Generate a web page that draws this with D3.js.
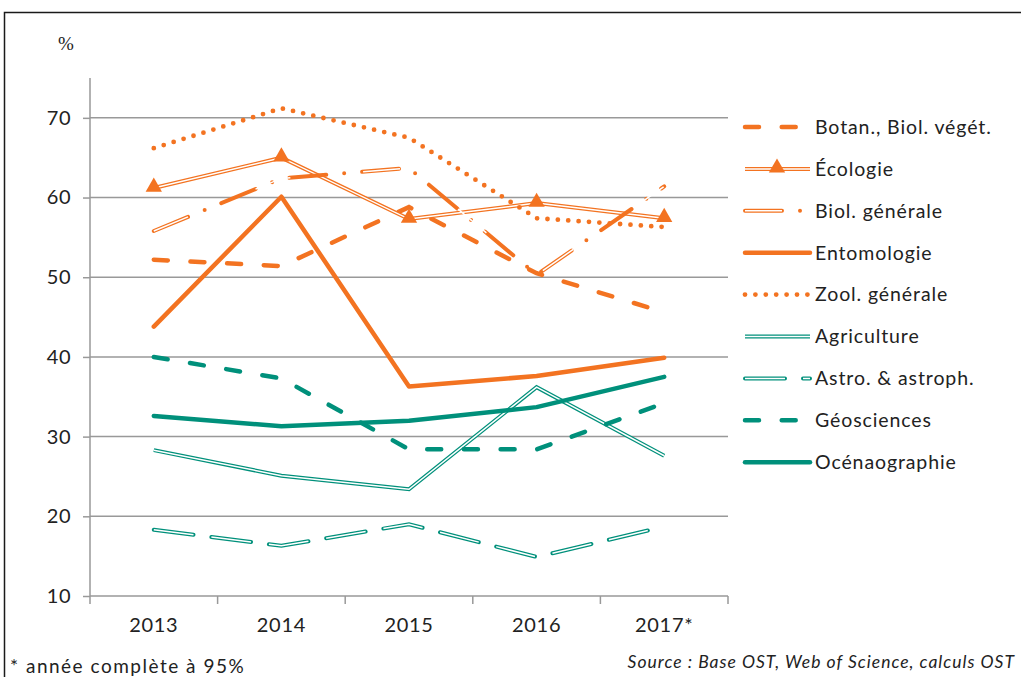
<!DOCTYPE html>
<html><head><meta charset="utf-8">
<script src="https://cdn.jsdelivr.net/npm/d3@7"></script>
<style>
html,body{margin:0;padding:0;background:#fff;overflow:hidden}
svg{display:block}
text{font-family:Lato,"Open Sans",sans-serif;fill:#222}
</style></head>
<body>
<script>
// ---- data ----
const years = ["2013","2014","2015","2016","2017*"];
const yTicks = [10,20,30,40,50,60,70];
const seriesNames = ["Botan., Biol. végét.","Écologie","Biol. générale","Entomologie","Zool. générale","Agriculture","Astro. & astroph.","Géosciences","Océnaographie"];
const botan = [52.2,51.4,58.8,50.5,45.6];
const ecologie = [61.2,65.0,57.3,59.3,57.4];
const biolGenerale = [55.8,62.4,63.7,50.3,61.4];
const entomologie = [43.8,60.1,36.3,37.6,39.9];
const zoolGenerale = [66.2,71.2,67.5,57.4,56.3];
const agriculture = [28.3,25.1,23.4,36.2,27.6];
const astro = [18.3,16.3,19.0,14.9,18.7];
const geosciences = [40.0,37.3,28.4,28.4,34.2];
const oceano = [32.6,31.3,32.0,33.7,37.5];
const seriesValues = [botan,ecologie,biolGenerale,entomologie,zoolGenerale,agriculture,astro,geosciences,oceano];

// ---- styles ----
const ORANGE = "#F37321", TEAL = "#00907B";
const styles = [
  {color:ORANGE, kind:"dash"},
  {color:ORANGE, kind:"double", marker:true},
  {color:ORANGE, kind:"double", dash:"37,18,0,18", inner:"37,73"},
  {color:ORANGE, kind:"solid"},
  {color:ORANGE, kind:"dot"},
  {color:TEAL, kind:"double"},
  {color:TEAL, kind:"double", dash:"40,18", inner:"40,18"},
  {color:TEAL, kind:"dash"},
  {color:TEAL, kind:"solid"}
];

const W = 1021, H = 677;
const svg = d3.select("body").append("svg").attr("width",W).attr("height",H);

// frame
svg.append("rect").attr("x",4.5).attr("y",12.5).attr("width",W+10).attr("height",H+10)
  .attr("fill","none").attr("stroke","#1a1a1a").attr("stroke-width",1.5);

const x = d3.scaleBand().domain(years).range([90,728]).padding(0);
const y = d3.scaleLinear().domain([10,75]).range([596,78]);

// gridlines
svg.append("g").selectAll("line").data(yTicks.filter(d=>d>10)).join("line")
  .attr("x1",90).attr("x2",728).attr("y1",d=>y(d)).attr("y2",d=>y(d))
  .attr("stroke","#999").attr("stroke-width",1.5);

// y axis
const yAxis = svg.append("g").attr("transform","translate(90,0)")
  .call(d3.axisLeft(y).tickValues(yTicks).tickSize(7).tickPadding(12));
yAxis.select(".domain").attr("stroke","#999").attr("stroke-width",1.5).attr("d","M0,78V596");
yAxis.selectAll(".tick line").attr("stroke","#999").attr("stroke-width",1.5);
yAxis.selectAll(".tick text").style("font-size","20px").style("letter-spacing","0.5px").style("font-family","Lato,sans-serif").attr("fill","#222");

// x axis
const xAxis = svg.append("g").attr("transform","translate(0,596)")
  .call(d3.axisBottom(x).tickSize(0).tickPadding(22));
xAxis.select(".domain").attr("stroke","#999").attr("stroke-width",1.5).attr("d","M90,0H728");
xAxis.selectAll(".tick text").style("font-size","20px").style("letter-spacing","0.7px").style("font-family","Lato,sans-serif").attr("fill","#222");
svg.append("g").selectAll("line").data(d3.range(years.length+1)).join("line")
  .attr("x1",i=>90+i*x.bandwidth()).attr("x2",i=>90+i*x.bandwidth())
  .attr("y1",596).attr("y2",604).attr("stroke","#999").attr("stroke-width",1.5);

// % label
svg.append("text").attr("x",58).attr("y",50).text("%")
  .style("font-size","19px").style("font-family","'Liberation Serif',serif");

const cx = i => x(years[i]) + x.bandwidth()/2;
const line = d3.line().x((d,i)=>cx(i)).y(d=>y(d));

function drawStroke(g, pathD, st){
  if(st.kind==="solid"){
    g.append("path").attr("d",pathD).attr("fill","none").attr("stroke",st.color)
      .attr("stroke-width",4.5).attr("stroke-linejoin","round").attr("stroke-linecap","round");
  } else if(st.kind==="dash"){
    g.append("path").attr("d",pathD).attr("fill","none").attr("stroke",st.color)
      .attr("stroke-width",4.5).attr("stroke-dasharray","14,22.7").attr("stroke-linecap","round");
  } else if(st.kind==="dot"){
    g.append("path").attr("d",pathD).attr("fill","none").attr("stroke",st.color)
      .attr("stroke-width",4.8).attr("stroke-dasharray","0,10.4").attr("stroke-linecap","round");
  } else if(st.kind==="double"){
    g.append("path").attr("d",pathD).attr("fill","none").attr("stroke",st.color)
      .attr("stroke-width",4).attr("stroke-linejoin","miter")
      .attr("stroke-linecap", st.dash ? "round":"butt")
      .attr("stroke-dasharray", st.dash || null);
    g.append("path").attr("d",pathD).attr("fill","none").attr("stroke","#fff")
      .attr("stroke-width",1.5).attr("stroke-linejoin","miter").attr("stroke-linecap","butt")
      .attr("stroke-dasharray", st.inner || null);
  }
}

const tri = d3.symbol().type(d3.symbolTriangle).size(115);

// series
const plot = svg.append("g");
seriesValues.forEach((vals,k)=>{
  const st = styles[k];
  const g = plot.append("g");
  drawStroke(g, line(vals), st);
  if(st.marker){
    g.selectAll("path.m").data(vals).join("path").attr("class","m")
      .attr("d",tri).attr("fill",st.color)
      .attr("transform",(d,i)=>`translate(${cx(i)},${y(d)-1})`);
  }
});

// legend
const lg = svg.append("g");
seriesNames.forEach((name,k)=>{
  const st = styles[k];
  const ly = 127 + k*41.9;
  const g = lg.append("g");
  drawStroke(g, `M745,${ly}H810`, st);
  if(st.marker){
    g.append("path").attr("d",tri).attr("fill",st.color).attr("transform",`translate(777,${ly-1})`);
  }
  g.append("text").attr("x",815).attr("y",ly).attr("dy","0.35em").text(name)
    .style("font-size","19.5px").style("letter-spacing","0.9px");
});

// footer
svg.append("text").attr("x",10).attr("y",673).text("* année complète à 95%")
  .style("font-size","19px").style("letter-spacing","1.5px");
svg.append("text").attr("x",1015).attr("y",668).attr("text-anchor","end")
  .text("Source : Base OST, Web of Science, calculs OST")
  .style("font-size","17.5px").style("font-style","italic").style("letter-spacing","1px");
</script>
</body></html>
